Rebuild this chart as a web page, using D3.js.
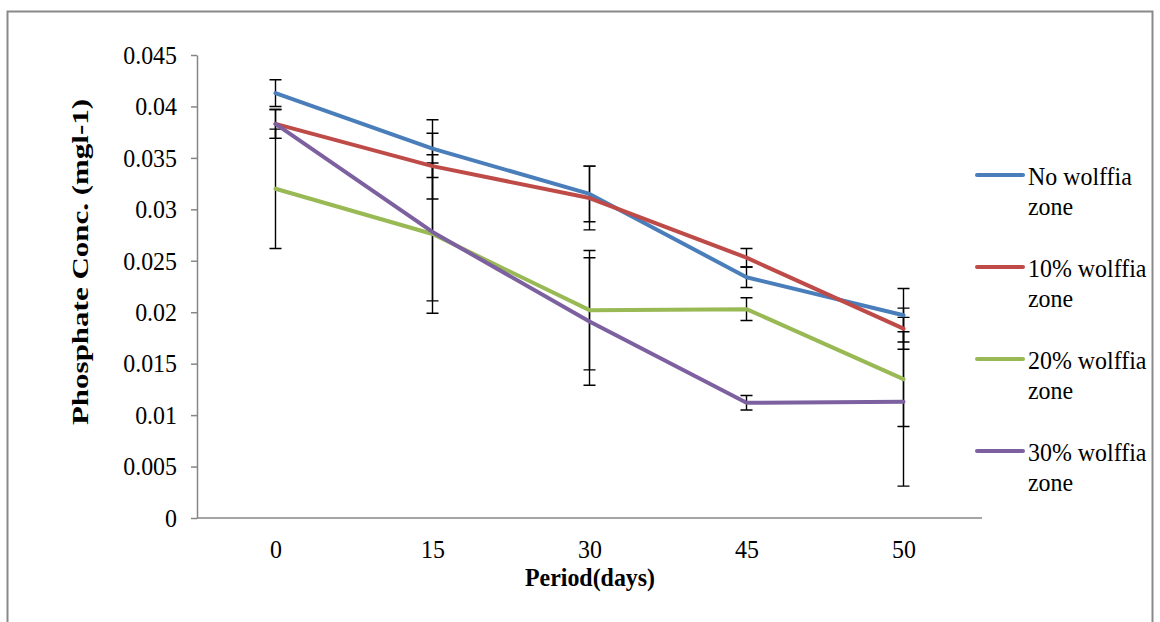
<!DOCTYPE html>
<html>
<head>
<meta charset="utf-8">
<script src="https://cdn.jsdelivr.net/npm/d3@7"></script>
<style>
  html, body { margin: 0; padding: 0; background: #fff; }
  svg text { font-family: "Liberation Serif", "Times New Roman", serif; fill: #000; }
</style>
</head>
<body>
<div id="chart"></div>
<script>
'use strict';

// chart data
const days = ["0", "15", "30", "45", "50"];
const yTicks = [0, 0.005, 0.01, 0.015, 0.02, 0.025, 0.03, 0.035, 0.04, 0.045];

const noWolffia    = [0.0413, 0.0359, 0.0315, 0.0234, 0.0197];
const noWolffiaErr = [0.0013, 0.0028, 0.0027, 0.0010, 0.0026];
const wolffia10    = [0.0383, 0.0342, 0.0311, 0.0253, 0.0184];
const wolffia10Err = [0.0014, 0.0032, 0.0031, 0.0009, 0.0020];
const wolffia20    = [0.0320, 0.0276, 0.0202, 0.0203, 0.0135];
const wolffia20Err = [0.0058, 0.0077, 0.0058, 0.0011, 0.0046];
const wolffia30    = [0.0383, 0.0278, 0.0191, 0.0112, 0.0113];
const wolffia30Err = [0.0014, 0.0067, 0.0062, 0.0007, 0.0082];

const seriesNames = ["No wolffia zone", "10% wolffia zone", "20% wolffia zone", "30% wolffia zone"];
const colors = ["#4a7ebb", "#be4b48", "#98b954", "#7d60a0"];

const series = [
  { name: seriesNames[0], values: noWolffia, err: noWolffiaErr, color: colors[0] },
  { name: seriesNames[1], values: wolffia10, err: wolffia10Err, color: colors[1] },
  { name: seriesNames[2], values: wolffia20, err: wolffia20Err, color: colors[2] },
  { name: seriesNames[3], values: wolffia30, err: wolffia30Err, color: colors[3] }
];

const W = 1160, H = 622;
const plot = { left: 197, right: 982, top: 55, bottom: 518 };
const sx = 0.92; // horizontal squeeze of the text in the picture
const serif = '"Liberation Serif", "Times New Roman", serif';

const svg = d3.select('#chart').append('svg')
  .attr('width', W).attr('height', H);

// outer frame (bottom edge runs off the picture)
svg.append('rect')
  .attr('x', 7.5).attr('y', 11.5)
  .attr('width', 1145).attr('height', 640)
  .attr('fill', 'none')
  .attr('stroke', '#898989')
  .attr('stroke-width', 2);

const x = d3.scalePoint().domain(days).range([plot.left, plot.right]).padding(0.5);
const y = d3.scaleLinear().domain([0, 0.045]).range([plot.bottom, plot.top]);

// y axis
const yAxis = svg.append('g')
  .attr('transform', 'translate(' + plot.left + ',0)')
  .call(d3.axisLeft(y).tickValues(yTicks).tickSize(6).tickSizeOuter(0)
    .tickFormat(d => String(+d.toFixed(3))));
yAxis.attr('font-family', serif);
yAxis.select('.domain').attr('stroke', '#868686').attr('stroke-width', 1.5);
yAxis.selectAll('.tick line').attr('stroke', '#868686').attr('stroke-width', 1.5);
yAxis.selectAll('.tick text')
  .attr('x', 0)
  .attr('transform', 'translate(-20,0) scale(' + sx + ',1)')
  .style('font-family', serif)
  .style('font-size', '26px');

// x axis
const xAxis = svg.append('g')
  .attr('transform', 'translate(0,' + plot.bottom + ')')
  .call(d3.axisBottom(x).tickSize(0).tickSizeOuter(0).tickPadding(22));
xAxis.attr('font-family', serif);
xAxis.select('.domain')
  .attr('d', 'M' + plot.left + ',0H' + plot.right)
  .attr('stroke', '#868686').attr('stroke-width', 1.5);
xAxis.selectAll('.tick text')
  .attr('transform', 'scale(' + sx + ',1)')
  .style('font-family', serif)
  .style('font-size', '26px');

// error bars under the lines
const cap = 6;
series.forEach(function (s) {
  const g = svg.append('g').attr('class', 'errbars')
    .attr('stroke', '#000').attr('stroke-width', 1.4).attr('fill', 'none');
  days.forEach(function (d, i) {
    const cx = x(d), hi = y(s.values[i] + s.err[i]), lo = y(s.values[i] - s.err[i]);
    g.append('path')
      .attr('d', 'M' + cx + ',' + hi + 'V' + lo +
                 'M' + (cx - cap) + ',' + hi + 'H' + (cx + cap) +
                 'M' + (cx - cap) + ',' + lo + 'H' + (cx + cap));
  });
});

// series lines
const line = d3.line()
  .x((v, i) => x(days[i]))
  .y(v => y(v));

series.forEach(function (s) {
  svg.append('path')
    .datum(s.values)
    .attr('d', line)
    .attr('fill', 'none')
    .attr('stroke', s.color)
    .attr('stroke-width', 4)
    .attr('stroke-linejoin', 'round')
    .attr('stroke-linecap', 'round');
});

// axis titles
svg.append('text')
  .attr('transform', 'translate(590,586) scale(' + sx + ',1)')
  .attr('text-anchor', 'middle')
  .style('font-family', serif)
  .style('font-size', '26px')
  .style('font-weight', 'bold')
  .text('Period(days)');

svg.append('text')
  .attr('transform', 'translate(88,262) rotate(-90) scale(1,0.76)')
  .attr('text-anchor', 'middle')
  .style('font-family', serif)
  .style('font-size', '31px')
  .style('font-weight', 'bold')
  .text('Phosphate Conc. (mgl-1)');

// legend
const legend = svg.append('g').attr('class', 'legend');
series.forEach(function (s, i) {
  const top = 185 + i * 92;
  const words = s.name.split(' ');
  legend.append('line')
    .attr('x1', 977).attr('x2', 1023)
    .attr('y1', top - 10).attr('y2', top - 10)
    .attr('stroke', s.color)
    .attr('stroke-width', 4)
    .attr('stroke-linecap', 'round');
  legend.append('text')
    .attr('transform', 'translate(1028,' + top + ') scale(' + sx + ',1)')
    .style('font-family', serif)
    .style('font-size', '26px')
    .text(words.slice(0, 2).join(' '));
  legend.append('text')
    .attr('transform', 'translate(1028,' + (top + 30) + ') scale(' + sx + ',1)')
    .style('font-family', serif)
    .style('font-size', '26px')
    .text(words.slice(2).join(' '));
});
</script>
</body>
</html>
